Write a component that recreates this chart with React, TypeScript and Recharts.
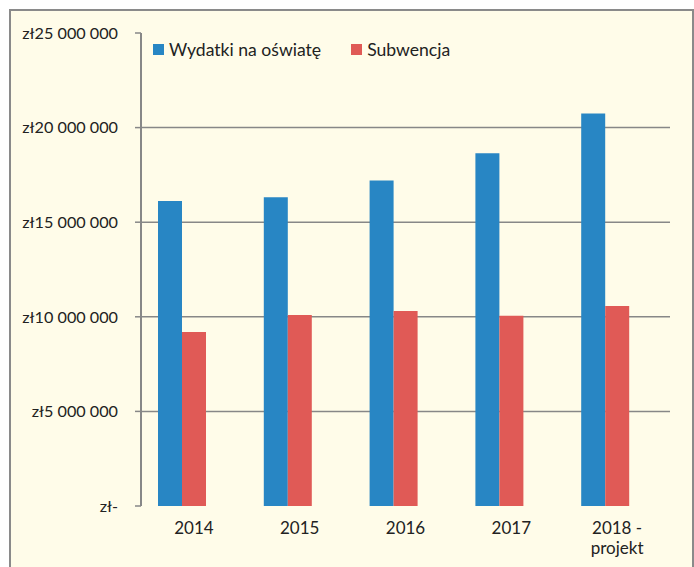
import React from "react";
import { BarChart, Bar, XAxis, YAxis, CartesianGrid, Legend } from "recharts";

const years = ["2014", "2015", "2016", "2017", "2018 - projekt"];
const wydatki = [16120000, 16320000, 17210000, 18640000, 20750000];
const subwencja = [9200000, 10090000, 10300000, 10060000, 10570000];
const yTicks = [0, 5000000, 10000000, 15000000, 20000000, 25000000];
const gridValues = [5000000, 10000000, 15000000, 20000000];
const boundaryTicks = [0, 1, 2, 3, 4, 5];

const seriesOrder = ["Wydatki na oświatę", "Subwencja"];
const BLUE = "#2886C4";
const RED = "#E05A56";
const GRAY = "#878787";
const BG = "#FFFCE9";
const FONT = "Lato, 'Open Sans', sans-serif";

const data = years.map((y, i) => ({
  year: y,
  wydatki: wydatki[i],
  subwencja: subwencja[i],
  pusty: null as number | null,
}));

const fmtY = (v: number) =>
  v === 0 ? "zł-" : "zł" + String(v).replace(/\B(?=(\d{3})+(?!\d))/g, " ");

const CatTick = (props: any) => {
  const { x, y, payload } = props;
  const label: string = payload.value;
  const lines = label.includes(" - ") ? label.replace(" - ", " -\n").split("\n") : [label];
  return (
    <text x={x} y={y} textAnchor="middle" fill="#222" fontSize={17} fontFamily={FONT}>
      {lines.map((l, i) => (
        <tspan key={i} x={x} dy={i === 0 ? "0.71em" : 19.5}>
          {l}
        </tspan>
      ))}
    </text>
  );
};

const LegendContent = (props: any) => {
  const items = (props.payload || [])
    .filter((p: any) => p.type !== "none" && seriesOrder.includes(p.value))
    .sort((a: any, b: any) => seriesOrder.indexOf(a.value) - seriesOrder.indexOf(b.value));
  return (
    <div style={{ display: "flex", alignItems: "center", fontFamily: FONT, fontSize: 17.6, color: "#222" }}>
      {items.map((p: any, i: number) => (
        <div key={i} style={{ display: "flex", alignItems: "center", marginRight: 30 }}>
          <span style={{ display: "inline-block", width: 11, height: 11, background: p.color, marginRight: 5 }} />
          <span>{p.value}</span>
        </div>
      ))}
    </div>
  );
};

export default function App() {
  return (
    <div style={{ position: "absolute", left: 0, top: 0, width: 694, height: 567, background: "#fff", overflow: "hidden" }}>
      <div
        style={{
          position: "absolute",
          left: 9,
          top: 9,
          width: 681,
          height: 600,
          border: `2px solid #8a8a8a`,
          background: BG,
        }}
      />
      <div style={{ position: "absolute", left: 0, top: 0 }}>
        <BarChart
          width={694}
          height={567}
          data={data}
          margin={{ top: 33, right: 24, bottom: 0, left: 0 }}
          barCategoryGap={17}
          barGap={0}
        >
          <CartesianGrid
            vertical={false}
            horizontalValues={gridValues}
            stroke={GRAY}
            strokeWidth={1.5}
            strokeDasharray=""
          />
          <XAxis
            xAxisId="b"
            type="number"
            domain={[0, 5]}
            ticks={boundaryTicks}
            allowDataOverflow
            height={0}
            tick={false}
            tickSize={6}
            axisLine={{ stroke: GRAY, strokeWidth: 2 }}
            tickLine={{ stroke: GRAY, strokeWidth: 1.5 }}
          />
          <XAxis
            xAxisId="cat"
            dataKey="year"
            type="category"
            height={61}
            axisLine={false}
            tickLine={false}
            tickSize={0}
            tickMargin={16}
            interval={0}
            tick={<CatTick />}
          />
          <YAxis
            width={141}
            domain={[0, 25000000]}
            ticks={yTicks}
            interval={0}
            tickFormatter={fmtY}
            tickSize={6}
            tickMargin={17}
            axisLine={{ stroke: GRAY, strokeWidth: 2 }}
            tickLine={{ stroke: GRAY, strokeWidth: 1.5 }}
            tick={{ fill: "#222", fontSize: 16.2, fontFamily: FONT }}
          />
          <Legend
            layout="horizontal"
            verticalAlign="middle"
            align="center"
            content={<LegendContent />}
            wrapperStyle={{ position: "absolute", top: 39, left: 153, width: 420 }}
          />
          <Bar xAxisId="cat" dataKey="wydatki" name="Wydatki na oświatę" fill={BLUE} isAnimationActive={false} />
          <Bar xAxisId="cat" dataKey="subwencja" name="Subwencja" fill={RED} isAnimationActive={false} />
          <Bar xAxisId="cat" dataKey="pusty" name="" legendType="none" fill="none" isAnimationActive={false} />
        </BarChart>
      </div>
    </div>
  );
}
